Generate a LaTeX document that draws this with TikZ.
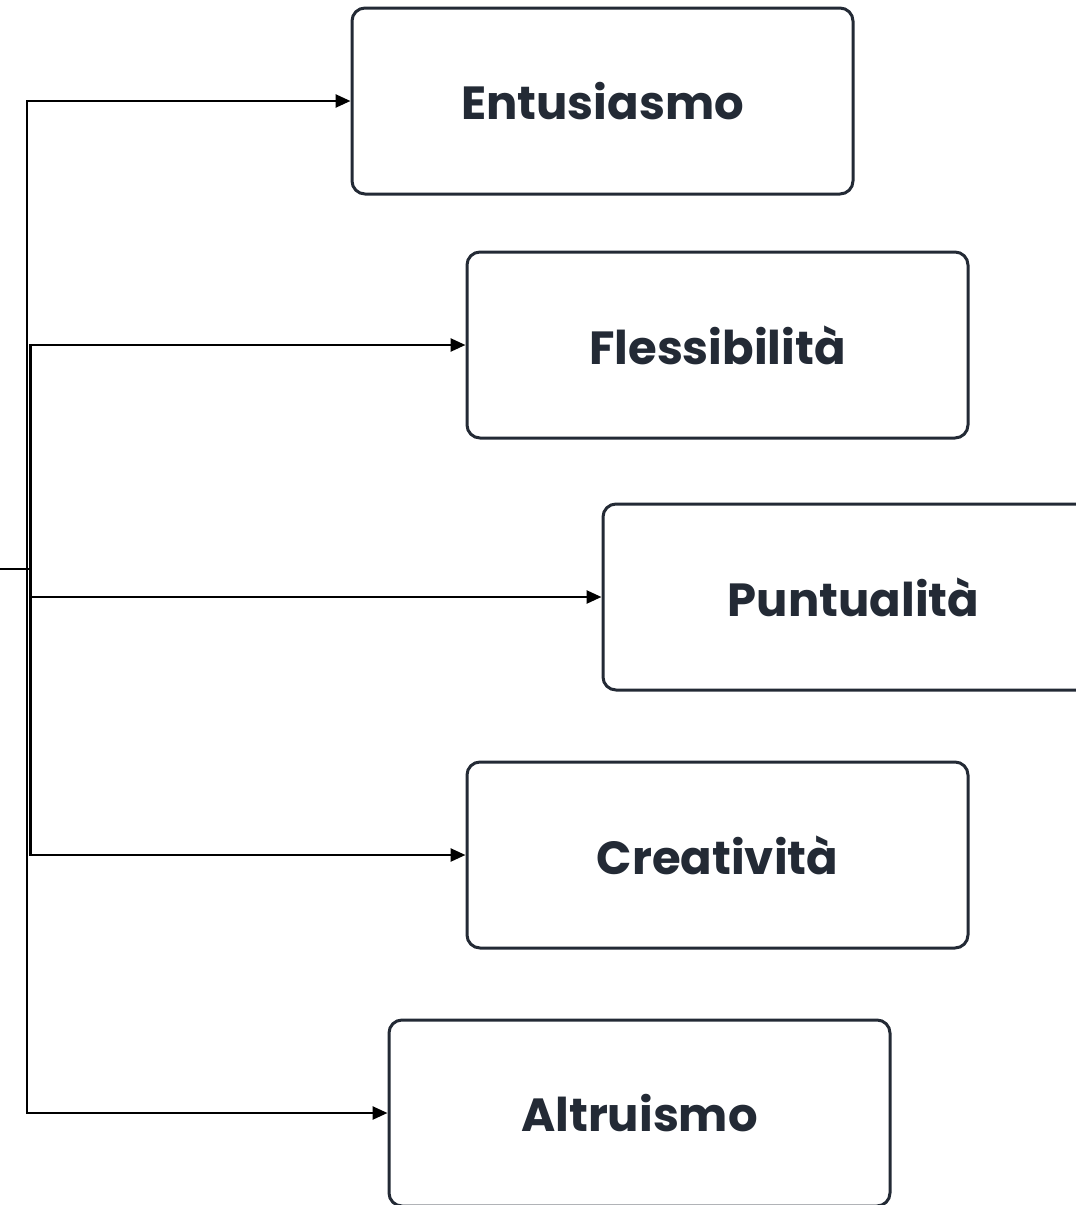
\documentclass[tikz,border=0pt]{standalone}
\usepackage{fontspec}
\setmainfont{Poppins}
\usepackage{tikz}
\usetikzlibrary{arrows.meta,positioning}
\definecolor{ink}{HTML}{232A35}
\tikzset{
  trait/.style={draw=ink, line width=3pt, rounded corners=13pt, fill=white,
    minimum width=501pt, minimum height=186pt, inner sep=0pt,
    text=ink, font=\fontsize{46.5}{52}\selectfont\bfseries},
  wire/.style={line width=2.6pt, black},
  link/.style={wire, -{Triangle[length=15pt, width=13pt]}},
}
\begin{document}
\begin{tikzpicture}[x=1pt,y=-1pt]
  \clip (0,0) rectangle (1076,1205);
  \useasboundingbox (0,0) rectangle (1076,1205);
  \node[trait] (ent) at (602.5,101) {Entusiasmo};
  \node[trait] (fle) at (717.5,345) {Flessibilità};
  \node[trait] (pun) at (853.5,597) {Puntualità};
  \node[trait] (cre) at (717.5,855) {Creatività};
  \node[trait] (alt) at (639.5,1113) {Altruismo};
  % split point
  \coordinate (start) at (0,569);
  \coordinate (outer) at (27,569);
  \coordinate (inner) at (30.5,569);
  \draw[wire] (start) -- (inner);
  \draw[link] (outer) |- (ent.west);
  \draw[link] (outer) |- (alt.west);
  \draw[link] (inner) |- (fle.west);
  \draw[link] (inner) |- (pun.west);
  \draw[link] (inner) |- (cre.west);
\end{tikzpicture}
\end{document}
